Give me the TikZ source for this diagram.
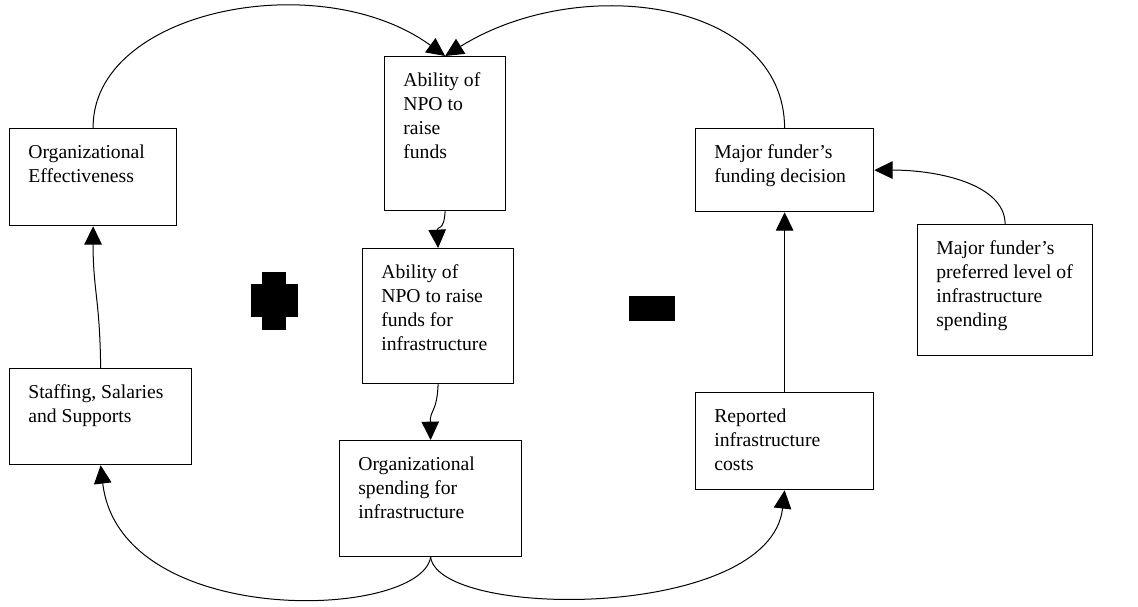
\documentclass[tikz,border=0pt]{standalone}
\usepackage{fontspec}
\setmainfont{Liberation Serif}
\usetikzlibrary{calc,arrows.meta}

\begin{document}
\begin{tikzpicture}[%
x=0.6pt, y=-0.6pt,
box/.style={draw, line width=0.75pt, inner sep=0pt, anchor=north west},
lbl/.style={anchor=north west, align=left, inner sep=0pt, font=\fontsize{11.8}{14.4}\selectfont},
link/.style={line width=0.6pt, -{Triangle[length=11pt,width=10.5pt]}},
]
\useasboundingbox (0,0) rectangle (1138,607);
%% boxes;
\node [box, minimum width=100.2pt, minimum height=58.2pt] (effect) at (9,128) {};
\node [box, minimum width=72.6pt, minimum height=92.4pt] (raise) at (384,56) {};
\node [box, minimum width=90.6pt, minimum height=81pt] (infra) at (362,248) {};
\node [box, minimum width=109.2pt, minimum height=57.6pt] (staff) at (9,368) {};
\node [box, minimum width=109.2pt, minimum height=69.6pt] (spend) at (339,440) {};
\node [box, minimum width=106.8pt, minimum height=49.8pt] (decision) at (695,128) {};
\node [box, minimum width=105pt, minimum height=78.6pt] (prefer) at (917,224) {};
\node [box, minimum width=106.8pt, minimum height=58.2pt] (report) at (695,392) {};
%% labels;
\node [lbl] (effect-t) at ($(effect.north west)+(19,16.5)$) {Organizational\\Effectiveness};
\node [lbl] (raise-t) at ($(raise.north west)+(19,16.5)$) {Ability of\\NPO to\\raise\\funds};
\node [lbl] (infra-t) at ($(infra.north west)+(19,16.5)$) {Ability of\\NPO to raise\\funds for\\infrastructure};
\node [lbl] (staff-t) at ($(staff.north west)+(19,16.5)$) {Staffing, Salaries\\and Supports};
\node [lbl] (spend-t) at ($(spend.north west)+(19,16.5)$) {Organizational\\spending for\\infrastructure};
\node [lbl] (decision-t) at ($(decision.north west)+(19,16.5)$) {Major funder's\\funding decision};
\node [lbl] (prefer-t) at ($(prefer.north west)+(19,16.5)$) {Major funder's\\preferred level of\\infrastructure\\spending};
\node [lbl] (report-t) at ($(report.north west)+(19,16.5)$) {Reported\\infrastructure\\costs};
%% loop signs;
\fill (262,272) rectangle (286,330);
\fill (251,284) rectangle (298,317);
\fill (629,296) rectangle (675,321);
%% links;
\draw [link] (effect.north) .. controls (92,10) and (320,-35) .. (raise.north);
\draw [link] (decision.north) .. controls (784,0) and (580,-28) .. (raise.north);
\draw [link] (raise.south) .. controls (444,232) and (437,226) .. (infra.north);
\draw [link] (infra.south) .. controls (437,412) and (430,410) .. (spend.north);
\draw [link] (staff.north) .. controls (100,300) and (93,290) .. (effect.south);
\draw [link] (spend.south) .. controls (420,620) and (120,630) .. (staff.south);
\draw [link] (spend.south) .. controls (440,620) and (770,620) .. (report.south);
\draw [link] (report.north) -- (decision.south);
\draw [link] (prefer.north) .. controls (1005,185) and (940,170) .. (decision.east);
\end{tikzpicture}
\end{document}
